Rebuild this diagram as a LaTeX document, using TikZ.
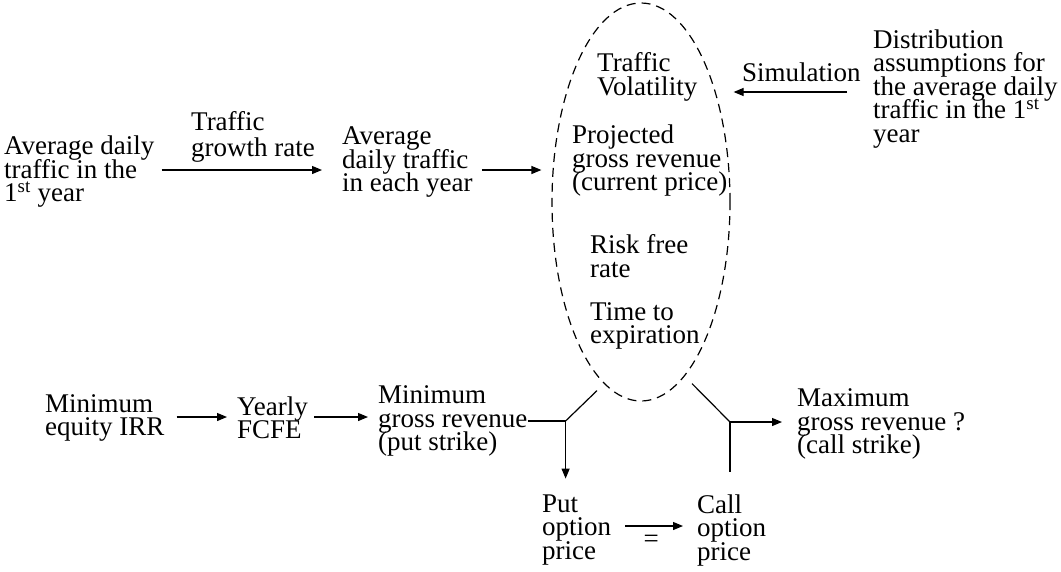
\documentclass[tikz,border=0pt]{standalone}
\usepackage{fontspec}
\setmainfont{Liberation Serif}
\usetikzlibrary{arrows.meta,shapes.geometric,calc}
\begin{document}
\begin{tikzpicture}[x=1pt,y=-1pt,
  txt/.style={font={\fontsize{27}{23.5}\selectfont\lineskiplimit=-50pt\lineskip=0pt}, align=left, inner sep=0pt, anchor=west},
  ln/.style={line width=1.2pt},
  arr/.style={ln,-{Triangle[length=10pt,width=8pt]}},
  dsh/.style={draw, ln, dash pattern=on 9pt off 6pt, ellipse, inner sep=0pt}]
\useasboundingbox (0,0) rectangle (1061,571);

\node[txt] (adt1) at (4,172) {Average daily\\traffic in the\\1\textsuperscript{st} year};
\node[txt, font={\fontsize{27}{26}\selectfont}] (gr) at (191,137) {Traffic\\growth rate};
\node[txt] (adt) at (342,162) {Average\\daily traffic\\in each year};
\node[dsh, minimum width=178pt, minimum height=398pt] (ell) at (641,202) {};
\node[txt] (vol) at (597,77) {Traffic\\Volatility};
\node[txt] (proj) at (572,161) {Projected\\gross revenue\\(current price)};
\node[txt] (rf) at (590,256) {Risk free\\rate};
\node[txt] (tte) at (590,326) {Time to\\expiration};
\node[txt] (sim) at (742,72) {Simulation};
\node[txt] (dist) at (873,89) {Distribution\\assumptions for\\the average daily\\traffic in the 1\textsuperscript{st}\\year};

\node[txt] (irr) at (45,418) {Minimum\\equity IRR};
\node[txt] (fcfe) at (237,418) {Yearly\\FCFE};
\node[txt] (minr) at (378,421) {Minimum\\gross revenue\\(put strike)};
\node[txt] (maxr) at (797,424) {Maximum\\gross revenue ?\\(call strike)};
\node[txt] (put) at (542,530) {Put\\option\\price};
\node[txt] (call) at (697,530) {Call\\option\\price};

\draw[arr] ($(adt1.east)+(7,-2)$) -- ($(adt.west)+(-20,8)$);
\draw[arr] ($(adt.east)+(9,8)$) -- ($(ell.west)+(-10,-32)$);
\draw[arr] ($(dist.west)+(-26,3)$) -- ($(ell.east)+(3,-110)$);
\draw[arr] ($(irr.east)+(12,-1)$) -- ($(fcfe.west)+(-10,-1)$);
\draw[arr] ($(fcfe.east)+(6,-1)$) -- ($(minr.west)+(-10,-4)$);

\coordinate (j1) at ($(minr.east)+(38,0)$);
\draw[ln] (minr.east) -- (j1);
\draw[ln] (j1) -- ($(ell.south)+(-44,-11)$);
\draw[arr] (j1) -- ($(j1 |- put.north)+(0,-16)$);

\coordinate (j2) at ($(maxr.west)+(-67,-2)$);
\draw[ln] ($(ell.south)+(51,-18)$) -- (j2);
\draw[arr] (j2) -- ($(maxr.west)+(-15,-2)$);
\draw[ln] (j2) -- ($(j2 |- call.north)+(0,-22)$);

\draw[arr] ($(put.east)+(14,-4)$) -- node[txt, anchor=center, pos=0.45, yshift=-15pt] (eq) {=} ($(call.west)+(-14,-4)$);
\end{tikzpicture}
\end{document}
